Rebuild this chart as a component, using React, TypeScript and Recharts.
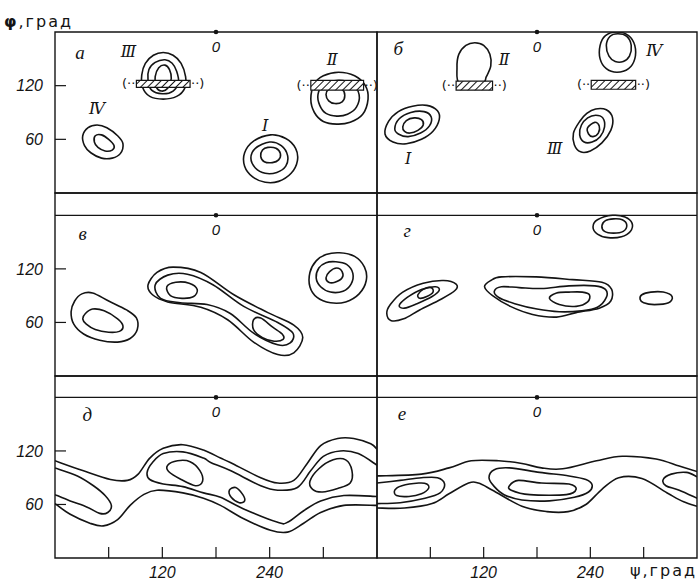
import { LineChart, Line, XAxis, YAxis, ReferenceArea, ReferenceLine, ReferenceDot } from 'recharts';

type P = [number, number];

// axes (psi, phi in degrees)
const xTicks = [60, 120, 180, 240, 300];
const xLabelTicks = [120, 240];
const yTicks = [60, 120];

// panel а
const aIIIOuter: P[] = [[121, 157], [110, 154], [101, 145], [97, 132], [98, 118], [106, 108], [121, 105], [136, 108], [145, 117], [146, 130], [141, 145], [132, 154]];
const aIIIMid: P[] = [[123, 149], [112, 146], [105, 138], [104, 126], [108, 115], [120, 111], [132, 114], [138, 124], [136, 136], [131, 145]];
const aIIIInner: P[] = [[123, 143], [128, 138], [130, 128], [126, 117], [119, 114], [113, 119], [112, 130], [116, 140]];
const aIIOuter: P[] = [[317, 135], [335, 131], [347, 120], [350, 105], [344, 88], [330, 79], [315, 77], [300, 80], [290, 90], [286, 105], [290, 122], [300, 131]];
const aIIMid: P[] = [[317, 126], [332, 122], [340, 110], [337, 96], [327, 88], [315, 86], [303, 89], [296, 98], [294, 110], [300, 121]];
const aIIInner: P[] = [[313, 118], [321, 116], [324, 109], [321, 102], [313, 100], [306, 103], [303, 110], [306, 116]];
const aIOuter: P[] = [[241, 65], [258, 61], [269, 50], [271, 36], [264, 22], [250, 13], [235, 12], [221, 18], [212, 30], [212, 45], [222, 58]];
const aIMid: P[] = [[240, 57], [253, 53], [260, 42], [258, 30], [248, 23], [235, 22], [224, 28], [219, 39], [224, 50]];
const aIInner: P[] = [[238, 51], [247, 50], [252, 44], [250, 37], [243, 34], [234, 35], [230, 41], [232, 48]];
const aIVOuter: P[] = [[37, 73], [47, 76], [58, 73], [70, 64], [76, 55], [73, 44], [64, 39], [52, 39], [40, 45], [33, 53], [31, 64]];
const aIVInner: P[] = [[45, 64], [52, 65], [60, 60], [66, 53], [64, 48], [56, 47], [48, 51], [44, 57]];
const aHatch = [[91, 151, 118, 126], [286, 345, 115, 126]];
const aNumerals: [string, number, number][] = [['Ⅲ', 82, 158], ['Ⅱ', 310, 149], ['Ⅰ', 235, 76], ['Ⅳ', 47, 95]];

// panel б
const bIIArch: P[] = [[93, 122], [90, 140], [92, 155], [100, 165], [110, 168], [120, 165], [127, 155], [128, 142], [123, 130], [118, 122]];
const bIVOuter: P[] = [[270, 180], [283, 176], [290, 165], [290, 150], [283, 139], [270, 135], [258, 139], [251, 150], [251, 165], [257, 176]];
const bIVInner: P[] = [[271, 178], [281, 175], [286, 165], [284, 153], [277, 147], [268, 147], [261, 153], [258, 165], [262, 175]];
const bIIIOuter: P[] = [[246, 94], [258, 93], [265, 84], [263, 70], [253, 56], [240, 47], [229, 46], [222, 54], [221, 67], [228, 80], [236, 89]];
const bIIIMid: P[] = [[246, 87], [254, 84], [256, 74], [251, 63], [242, 57], [233, 57], [228, 65], [230, 76], [237, 84]];
const bIIIInner: P[] = [[245, 79], [250, 75], [249, 67], [243, 63], [238, 66], [237, 73]];
const bIOuter: P[] = [[9, 66], [13, 80], [24, 91], [40, 97], [56, 98], [68, 92], [70, 82], [63, 69], [50, 60], [33, 55], [18, 57]];
const bIMid: P[] = [[20, 72], [25, 83], [38, 90], [53, 91], [61, 85], [59, 75], [49, 67], [35, 63], [24, 66]];
const bIInner: P[] = [[29, 74], [33, 81], [42, 84], [50, 82], [52, 76], [46, 70], [37, 67], [31, 69]];
const bHatch = [[89, 130, 115, 125], [241, 291, 116, 126]];
const bNumerals: [string, number, number][] = [['Ⅱ', 143, 149], ['Ⅳ', 312, 160], ['Ⅲ', 200, 50], ['Ⅰ', 35, 39]];

// panel в
const vLeftOuter: P[] = [[22, 84], [30, 92], [42, 93], [60, 84], [80, 74], [91, 65], [92, 52], [84, 42], [70, 38], [50, 40], [32, 47], [21, 58], [18, 72]];
const vLeftInner: P[] = [[34, 70], [42, 75], [55, 73], [70, 64], [76, 56], [72, 50], [60, 49], [45, 52], [35, 58], [31, 64]];
const vMidOuter: P[] = [[104, 102], [114, 116], [132, 122], [163, 116], [200, 91], [238, 71], [267, 57], [277, 43], [267, 26], [249, 24], [222, 38], [193, 63], [163, 77], [126, 83], [109, 91]];
const vMidMid: P[] = [[112, 102], [126, 113], [148, 114], [177, 102], [211, 78], [249, 60], [266, 48], [263, 37], [249, 35], [222, 48], [196, 70], [170, 80], [140, 82], [118, 87]];
const vInnerL: P[] = [[125, 100], [135, 105], [150, 104], [159, 97], [155, 89], [142, 87], [129, 90]];
const vInnerR: P[] = [[222, 63], [230, 65], [243, 55], [254, 47], [255, 41], [245, 39], [232, 43], [222, 52]];
const vRightOuter: P[] = [[318, 138], [335, 134], [346, 122], [348, 107], [340, 92], [325, 83], [308, 82], [293, 88], [285, 100], [285, 116], [292, 129], [303, 136]];
const vRightMid: P[] = [[314, 128], [326, 125], [333, 115], [331, 103], [322, 95], [308, 94], [297, 100], [292, 110], [295, 121], [303, 127]];
const vRightInner: P[] = [[315, 121], [321, 117], [321, 110], [313, 105], [306, 105], [303, 110], [307, 117]];

// panel г
const gTopOuter: P[] = [[265, 180], [279, 178], [287, 171], [285, 162], [275, 156], [260, 155], [248, 159], [243, 167], [248, 175]];
const gTopInner: P[] = [[266, 176], [276, 175], [281, 169], [277, 162], [266, 160], [256, 162], [253, 168], [257, 174]];
const gLeftOuter: P[] = [[16, 62], [11, 70], [15, 80], [29, 94], [52, 104], [75, 107], [89, 103], [88, 96], [72, 86], [48, 74], [30, 64]];
const gLeftMid: P[] = [[25, 79], [34, 88], [50, 97], [66, 100], [70, 96], [62, 89], [45, 81], [31, 76]];
const gLeftInner: P[] = [[46, 91], [52, 97], [61, 99], [63, 94], [56, 89], [48, 87]];
const gMidOuter: P[] = [[121, 100], [128, 107], [140, 111], [179, 111], [220, 108], [253, 105], [264, 97], [263, 84], [250, 76], [224, 71], [202, 66], [175, 69], [150, 78], [130, 90]];
const gMidMid: P[] = [[132, 95], [140, 100], [160, 99], [185, 98], [216, 101], [245, 101], [257, 97], [258, 88], [248, 77], [230, 73], [205, 72], [180, 75], [155, 81], [137, 88]];
const gMidInner: P[] = [[194, 87], [202, 93], [216, 94], [231, 94], [239, 91], [237, 83], [224, 78], [205, 80]];
const gRight: P[] = [[298, 91], [308, 94], [322, 94], [332, 89], [328, 82], [312, 80], [300, 82], [296, 86]];

// panel д
const dOuterTop: P[] = [[0, 109], [31, 98], [62, 88], [81, 87], [93, 94], [106, 112], [121, 123], [143, 127], [166, 121], [185, 112], [196, 107], [230, 90], [249, 84], [267, 87], [282, 106], [297, 126], [316, 134], [334, 134], [353, 128], [360, 122]];
const dOuterBottom: P[] = [[0, 61], [17, 49], [39, 39], [54, 36], [70, 43], [84, 59], [99, 71], [114, 76], [143, 73], [166, 67], [185, 59], [211, 44], [241, 31], [260, 29], [278, 39], [297, 51], [323, 59], [360, 59]];
const dMidRight: P[] = [[360, 104], [339, 117], [319, 120], [300, 114], [286, 98], [271, 79], [249, 76], [230, 81], [196, 98], [174, 107], [166, 112], [143, 119], [121, 117], [109, 107], [103, 96], [106, 88], [121, 83], [143, 80], [166, 73], [185, 68], [211, 55], [249, 40], [260, 40], [278, 53], [297, 64], [323, 70], [360, 69]];
const dMidLeft: P[] = [[0, 101], [25, 92], [43, 81], [56, 70], [63, 59], [59, 51], [50, 50], [36, 57], [17, 64], [0, 71]];
const dInnerA: P[] = [[126, 104], [137, 109], [151, 108], [162, 98], [165, 86], [157, 81], [141, 88], [127, 97]];
const dInnerB: P[] = [[195, 76], [202, 79], [210, 71], [212, 64], [206, 62], [197, 68]];
const dInnerC: P[] = [[288, 77], [285, 86], [295, 100], [311, 110], [325, 110], [332, 98], [330, 84], [316, 78], [299, 74]];

// panel е
const eOuterTop: P[] = [[0, 92], [50, 94], [81, 101], [106, 109], [137, 109], [163, 106], [185, 101], [209, 100], [247, 109], [276, 114], [314, 111], [340, 103], [360, 97]];
const eOuterBottom: P[] = [[0, 56], [31, 56], [62, 61], [81, 72], [103, 84], [114, 84], [130, 76], [163, 58], [191, 52], [215, 52], [235, 60], [253, 77], [272, 90], [298, 89], [328, 72], [345, 63], [360, 58]];
const eMidCentral: P[] = [[126, 90], [132, 99], [149, 101], [183, 96], [216, 92], [235, 88], [242, 82], [238, 74], [222, 68], [194, 64], [163, 65], [143, 71], [132, 80]];
const eMidLeft: P[] = [[0, 84], [26, 87], [50, 90], [68, 90], [76, 83], [71, 73], [54, 67], [26, 62], [0, 61]];
const eMidRight: P[] = [[360, 91], [348, 96], [331, 94], [322, 88], [325, 81], [340, 76], [360, 67]];
const eInnerLeft: P[] = [[20, 76], [28, 81], [47, 84], [56, 83], [58, 78], [50, 72], [36, 69], [22, 70]];
const eInnerCentral: P[] = [[149, 81], [159, 87], [185, 84], [216, 83], [224, 77], [213, 71], [172, 71], [151, 76]];

// panel letters [text, psi, phi]
const letters: [string, number, number][] = [['а', 28, 157], ['б', 24, 162], ['в', 31, 160], ['г', 34, 163], ['д', 36, 161], ['е', 28, 162]];

const INK = '#141414';

// smooth curve through the points (Catmull-Rom), closed or open
const makeCurve = (closed: boolean) => (context: any) => {
  let pts: number[][] = [];
  return {
    areaStart() {},
    areaEnd() {},
    lineStart() {
      pts = [];
    },
    point(x: number, y: number) {
      pts.push([x, y]);
    },
    lineEnd() {
      const n = pts.length;
      if (!n) return;
      const get = (i: number) => (closed ? pts[(i + n) % n] : pts[Math.max(0, Math.min(n - 1, i))]);
      context.moveTo(pts[0][0], pts[0][1]);
      const segs = closed ? n : n - 1;
      for (let i = 0; i < segs; i++) {
        const p0 = get(i - 1);
        const p1 = get(i);
        const p2 = get(i + 1);
        const p3 = get(i + 2);
        context.bezierCurveTo(
          p1[0] + (p2[0] - p0[0]) / 6,
          p1[1] + (p2[1] - p0[1]) / 6,
          p2[0] - (p3[0] - p1[0]) / 6,
          p2[1] - (p3[1] - p1[1]) / 6,
          p2[0],
          p2[1]
        );
      }
      if (closed) context.closePath();
    },
  };
};
const closedCurve = makeCurve(true);
const openCurve = makeCurve(false);

const toPts = (a: P[]) => a.map(([x, y]) => ({ x, y }));

// layout
const colX = [55, 377];
const colW = [322, 320];
const rowTop = [32, 193, 376];
const rowH = [161, 183, 182];
const rowMax = [180, 205, 204];

type PanelCfg = {
  row: number;
  col: number;
  letter: [string, number, number];
  closed: P[][];
  open?: P[][];
  hatches?: number[][];
  numerals?: [string, number, number][];
};

const panels: PanelCfg[] = [
  { row: 0, col: 0, letter: letters[0], closed: [aIIIOuter, aIIIMid, aIIIInner, aIIOuter, aIIMid, aIIInner, aIOuter, aIMid, aIInner, aIVOuter, aIVInner], hatches: aHatch, numerals: aNumerals },
  { row: 0, col: 1, letter: letters[1], closed: [bIIArch, bIVOuter, bIVInner, bIIIOuter, bIIIMid, bIIIInner, bIOuter, bIMid, bIInner], hatches: bHatch, numerals: bNumerals },
  { row: 1, col: 0, letter: letters[2], closed: [vLeftOuter, vLeftInner, vMidOuter, vMidMid, vInnerL, vInnerR, vRightOuter, vRightMid, vRightInner] },
  { row: 1, col: 1, letter: letters[3], closed: [gTopOuter, gTopInner, gLeftOuter, gLeftMid, gLeftInner, gMidOuter, gMidMid, gMidInner, gRight] },
  { row: 2, col: 0, letter: letters[4], closed: [dInnerA, dInnerB, dInnerC], open: [dOuterTop, dOuterBottom, dMidRight, dMidLeft] },
  { row: 2, col: 1, letter: letters[5], closed: [eMidCentral, eInnerLeft, eInnerCentral], open: [eOuterTop, eOuterBottom, eMidLeft, eMidRight] },
];

const tickFont = { fontSize: 16, fontStyle: 'italic', fontFamily: '"Liberation Sans", sans-serif', fill: INK };
const textStyle = { fill: INK, stroke: 'none' };

function Panel({ cfg }: { cfg: PanelCfg }) {
  const { row, col } = cfg;
  const yW = col === 0 ? 55 : 4;
  const xH = row === 2 ? 25 : 2;
  const pad = 3;
  const yMax = rowMax[row];
  const lineProps = {
    dataKey: 'y',
    stroke: INK,
    strokeWidth: 1.6,
    dot: false,
    activeDot: false,
    isAnimationActive: false,
  };
  return (
    <div style={{ position: 'absolute', left: colX[col] - yW, top: rowTop[row] - pad }}>
      <LineChart width={yW + colW[col] + 2} height={pad + rowH[row] + xH} margin={{ top: pad, right: 2, bottom: 0, left: 0 }}>
        <XAxis
          type="number"
          dataKey="x"
          domain={[0, 360]}
          allowDataOverflow
          ticks={xTicks}
          interval={0}
          height={xH}
          axisLine={false}
          tickSize={-11}
          tickMargin={20}
          tickLine={{ stroke: INK, strokeWidth: 1.2 }}
          tick={row === 2 ? tickFont : false}
          tickFormatter={(v: number) => (xLabelTicks.includes(v) ? String(v) : '')}
          label={
            row === 2 && col === 1
              ? { value: 'ψ,град', position: 'insideRight', offset: 0, fontSize: 16, letterSpacing: 2, fontFamily: '"DejaVu Sans", sans-serif', fill: INK }
              : undefined
          }
        />
        <YAxis
          type="number"
          domain={[0, yMax]}
          allowDataOverflow
          ticks={yTicks}
          interval={0}
          width={yW}
          axisLine={false}
          tickSize={-11}
          tickMargin={23}
          tickLine={{ stroke: INK, strokeWidth: 1.2 }}
          tick={col === 0 ? tickFont : false}
        />
        <ReferenceArea x1={0} x2={360} y1={0} y2={yMax} fill="none" stroke={INK} strokeWidth={1.4} ifOverflow="visible" />
        {row > 0 && <ReferenceLine y={180} stroke={INK} strokeWidth={1.2} />}
        {cfg.closed.map((c, i) => (
          <Line key={'c' + i} data={toPts(c)} type={closedCurve as any} {...lineProps} />
        ))}
        {(cfg.open || []).map((c, i) => (
          <Line key={'o' + i} data={toPts(c)} type={openCurve as any} {...lineProps} />
        ))}
        {(cfg.hatches || []).map((h, i) => (
          <ReferenceArea key={'h' + i} x1={h[0]} x2={h[1]} y1={h[2]} y2={h[3]} fill="url(#hatch)" fillOpacity={1} stroke={INK} strokeWidth={1.2} zIndex={1000} />
        ))}
        {(cfg.hatches || []).map((h, i) => (
          <ReferenceDot key={'pl' + i} x={h[0]} y={(h[2] + h[3]) / 2} r={0} fill="none" stroke="none"
            label={{ value: '(··', position: 'left', offset: 1, fontSize: 13, fontFamily: '"DejaVu Sans", sans-serif', ...textStyle }} />
        ))}
        {(cfg.hatches || []).map((h, i) => (
          <ReferenceDot key={'pr' + i} x={h[1]} y={(h[2] + h[3]) / 2} r={0} fill="none" stroke="none"
            label={{ value: '··)', position: 'right', offset: 1, fontSize: 13, fontFamily: '"DejaVu Sans", sans-serif', ...textStyle }} />
        ))}
        {(cfg.numerals || []).map((n, i) => (
          <ReferenceDot key={'n' + i} x={n[1]} y={n[2]} r={0} fill="none" stroke="none"
            label={{ value: n[0], position: 'center', fontSize: 16, fontStyle: 'italic', fontFamily: '"DejaVu Serif", serif', ...textStyle }} />
        ))}
        <ReferenceDot x={cfg.letter[1]} y={cfg.letter[2]} r={0} fill="none" stroke="none"
          label={{ value: cfg.letter[0], position: 'center', fontSize: 19, fontStyle: 'italic', fontFamily: '"Liberation Serif", serif', ...textStyle }} />
        <ReferenceDot x={180} y={180} r={2.3} fill={INK} stroke="none" ifOverflow="visible"
          label={{ value: '0', position: 'bottom', offset: 7, fontSize: 15, fontStyle: 'italic', fontFamily: '"Liberation Sans", sans-serif', ...textStyle }} />
      </LineChart>
    </div>
  );
}

export default function App() {
  return (
    <div style={{ position: 'absolute', left: 0, top: 0, width: 699, height: 583, overflow: 'hidden', background: '#fff' }}>
      <svg width={0} height={0} style={{ position: 'absolute' }}>
        <defs>
          <pattern id="hatch" patternUnits="userSpaceOnUse" width={5} height={5} patternTransform="rotate(45)">
            <rect width={5} height={5} fill="#fff" />
            <line x1={0} y1={0} x2={0} y2={5} stroke={INK} strokeWidth={2} />
          </pattern>
        </defs>
      </svg>
      <div style={{ position: 'absolute', left: 4, top: 12, fontFamily: '"DejaVu Sans", sans-serif', fontSize: 16, letterSpacing: 2, color: INK }}>
        <b>φ</b>,град
      </div>
      {panels.map((p, i) => (
        <Panel key={i} cfg={p} />
      ))}
    </div>
  );
}
